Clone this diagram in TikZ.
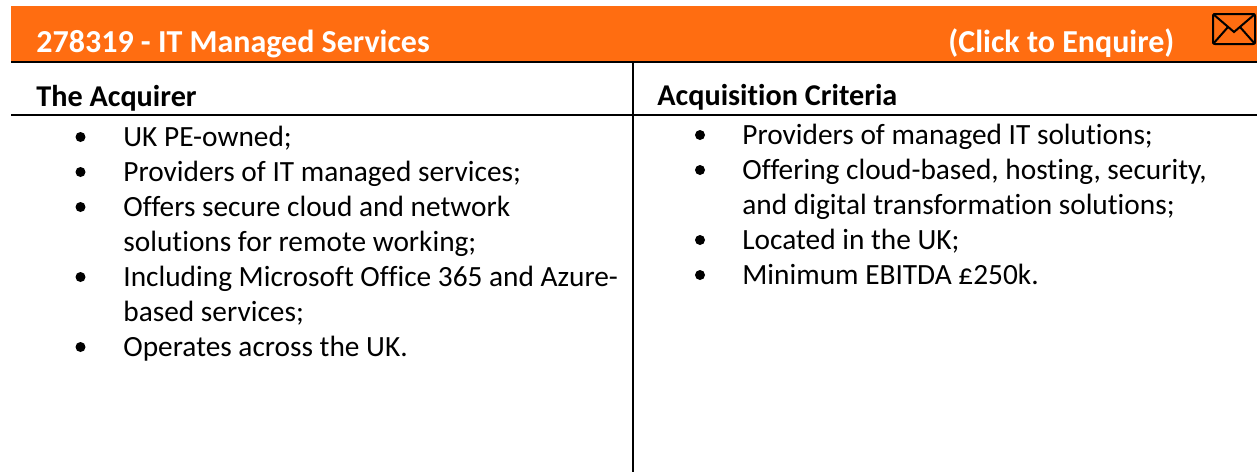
\documentclass[tikz,border=0pt]{standalone}
\usepackage{fontspec}
\setmainfont{Carlito}[Ligatures=NoCommon]
\definecolor{banner}{RGB}{255,109,17}
\tikzset{
  rule/.style={line width=1pt},
  titletext/.style={anchor=base west,inner sep=0pt,text=white,font=\fontsize{16}{19}\selectfont\bfseries},
  headtext/.style={anchor=base west,inner sep=0pt,font=\fontsize{15.1}{18}\selectfont\bfseries},
  itemtext/.style={anchor=base west,inner sep=0pt,align=left,font=\fontsize{14.67}{17.5}\selectfont},
  dot/.style={circle,fill=black,inner sep=0pt,minimum size=5pt}
}
\begin{document}
\begin{tikzpicture}[x=0.5pt,y=-0.5pt]
  \useasboundingbox (0,0) rectangle (1257,472);
  % banner
  \fill[banner] (11,6) rectangle (1257,61);
  \node[titletext] (title) at (36,52) {278319 - IT Managed Services};
  \node[titletext] (enquire) at (948,52) {(Click to Enquire)};
  % envelope
  \draw[line width=1pt,rounded corners=1pt] (1213,14) rectangle (1255,44);
  \draw[line width=1pt] (1213,14) -- (1234,32) -- (1255,14);
  \draw[line width=1pt] (1213,44) -- (1228,27) (1255,44) -- (1240,27);
  % table rules
  \coordinate (tl) at (11,61.5);
  \coordinate (tr) at (1257,61.5);
  \coordinate (hl) at (11,114.5);
  \coordinate (hr) at (1257,114.5);
  \coordinate (vt) at (633,61.5);
  \coordinate (vb) at (633,472);
  \draw[rule] (tl) -- (tr);
  \draw[rule] (hl) -- (hr);
  \draw[rule] (vt) -- (vb);
  % headers
  \node[headtext] (acquirer) at (36,106) {The Acquirer};
  \node[headtext] (criteria) at (657,105) {Acquisition Criteria};
  % left column (multi-line items sit on their last baseline)
  \node[itemtext] (a1) at (123,146) {UK PE-owned;};
  \node[itemtext] (a2) at (123,181) {Providers of IT managed services;};
  \node[itemtext] (a3) at (123,251) {Offers secure cloud and network\\solutions for remote working;};
  \node[itemtext] (a4) at (123,321) {Including Microsoft Office 365 and Azure-\\based services;};
  \node[itemtext] (a5) at (123,356) {Operates across the UK.};
  \foreach \y in {146,181,216,286,356}
    \node[dot] at (80.5,\y-9) {};
  % right column
  \node[itemtext] (c1) at (742,144) {Providers of managed IT solutions;};
  \node[itemtext] (c2) at (742,214) {Offering cloud-based, hosting, security,\\and digital transformation solutions;};
  \node[itemtext] (c3) at (742,249) {Located in the UK;};
  \node[itemtext] (c4) at (742,284) {Minimum EBITDA £250k.};
  \foreach \y in {144,179,249,284}
    \node[dot] at (700,\y-9) {};
\end{tikzpicture}
\end{document}
